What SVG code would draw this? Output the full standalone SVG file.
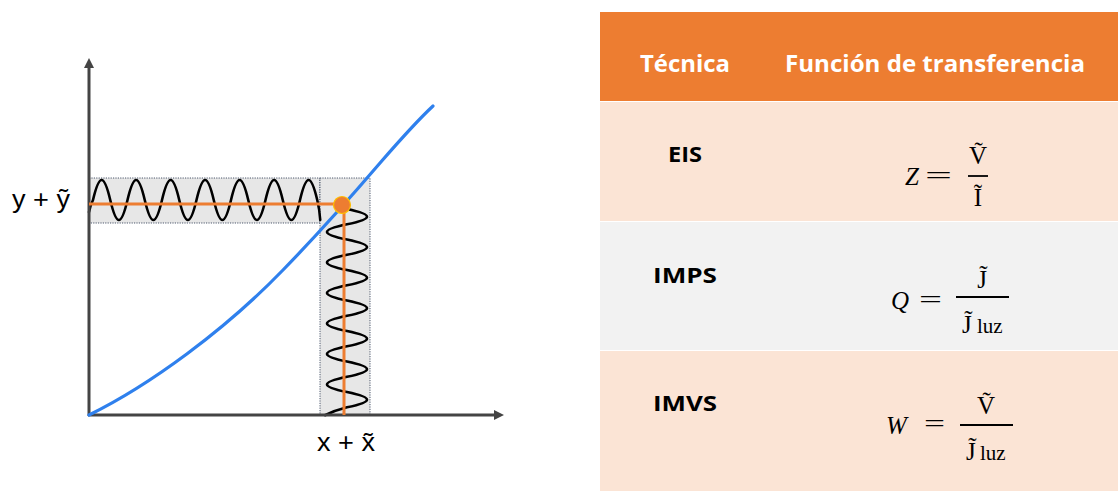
<svg xmlns="http://www.w3.org/2000/svg" width="1118" height="491" viewBox="0 0 1118 491">
<defs>
<style>
.box{fill:#E7E7E7;stroke:#22304a;stroke-width:0.8;stroke-dasharray:1.2,1.2}
.wave{fill:none;stroke:#000;stroke-width:2.6;stroke-linecap:round}
.axis{stroke:#444;stroke-width:3;fill:none}
.org{stroke:#ED7D31;stroke-width:3;fill:none}
.lbl{font-family:"Liberation Sans",Arial,sans-serif;font-size:26px;fill:#000}
.hdr{font-family:"Open Sans","Noto Sans",sans-serif;font-weight:700;font-size:24px;fill:#fff}
.tech{font-family:"Open Sans","Noto Sans",sans-serif;font-weight:700;font-size:22px;fill:#000}
.m{font-family:"Liberation Serif","DejaVu Serif",serif;font-size:25px;fill:#000}
.mi{font-family:"Liberation Serif","DejaVu Serif",serif;font-style:italic;font-size:25px;fill:#000}
.sub{font-family:"Liberation Serif","DejaVu Serif",serif;font-size:21px;fill:#000}
.bar{stroke:#000;stroke-width:1.8}
</style>
<marker id="ah" markerWidth="10" markerHeight="10" refX="6" refY="5" orient="auto" markerUnits="userSpaceOnUse">
<path d="M0,0 L10,5 L0,10 Z" fill="#444"/>
</marker>
</defs>

<g id="chart">
<rect class="box" x="89" y="178" width="231" height="45"/>
<rect class="box" x="320" y="178" width="50" height="237"/>
<path class="wave" d="M89,212 C90,207 91.5,203 93,200 c6.28,-26.67 10.97,-26.67 17.25,0 c6.28,26.67 10.97,26.67 17.25,0 c6.28,-26.67 10.97,-26.67 17.25,0 c6.28,26.67 10.97,26.67 17.25,0 c6.28,-26.67 10.97,-26.67 17.25,0 c6.28,26.67 10.97,26.67 17.25,0 c6.28,-26.67 10.97,-26.67 17.25,0 c6.28,26.67 10.97,26.67 17.25,0 c6.28,-26.67 10.97,-26.67 17.25,0 c6.28,26.67 10.97,26.67 17.25,0 c6.28,-26.67 10.97,-26.67 17.25,0 c6.28,26.67 10.97,26.67 17.25,0 c6.28,-26.67 10.97,-26.67 17.25,0 c1.5,6 2.5,13 3,20"/>
<path class="wave" d="M347,209 c26.67,5.55 26.67,9.7 0,15.25 c-26.67,5.55 -26.67,9.7 0,15.25 c26.67,5.55 26.67,9.7 0,15.25 c-26.67,5.55 -26.67,9.7 0,15.25 c26.67,5.55 26.67,9.7 0,15.25 c-26.67,5.55 -26.67,9.7 0,15.25 c26.67,5.55 26.67,9.7 0,15.25 c-26.67,5.55 -26.67,9.7 0,15.25 c26.67,5.55 26.67,9.7 0,15.25 c-26.67,5.55 -26.67,9.7 0,15.25 c26.67,5.55 26.67,9.7 0,15.25 c-26.67,5.55 -26.67,9.7 0,15.25 c26.67,5.55 26.67,9.7 0,15.25 c-8,2 -16,5 -22,8"/>
<line class="axis" x1="89" y1="416" x2="89" y2="62" marker-end="url(#ah)"/>
<line class="axis" x1="88" y1="415" x2="500" y2="415" marker-end="url(#ah)"/>
<path d="M89,415 C150,385 225,330 283,270 C320,232 350,198 380,163 C400,140 418,120 433,106" fill="none" stroke="#2F80ED" stroke-width="3.2" stroke-linecap="round"/>
<line class="org" x1="89" y1="204" x2="342" y2="204"/>
<line class="org" x1="344" y1="205" x2="344" y2="415"/>
<circle cx="342" cy="205" r="8.5" fill="#ED7D31" stroke="#FFC000" stroke-width="1.2"/>
<text class="lbl" x="12" y="208" textLength="58" lengthAdjust="spacingAndGlyphs">y + ỹ</text>
<text class="lbl" x="317" y="451" textLength="58" lengthAdjust="spacingAndGlyphs">x + x̃</text>
</g>

<g id="table-header">
<rect x="600" y="12" width="518" height="89" fill="#ED7D31"/>
<text class="hdr" x="640" y="72" textLength="90" lengthAdjust="spacingAndGlyphs">Técnica</text>
<text class="hdr" x="785" y="72" textLength="300" lengthAdjust="spacingAndGlyphs">Función de transferencia</text>
</g>

<g id="row-eis">
<rect x="600" y="102" width="518" height="119" fill="#FBE4D5"/>
<text class="tech" x="668" y="162" textLength="34" lengthAdjust="spacingAndGlyphs">EIS</text>
<text class="mi" x="905" y="185">Z</text>
<text class="m" x="925" y="184" textLength="27" lengthAdjust="spacingAndGlyphs">=</text>
<line class="bar" x1="968" y1="176" x2="988" y2="176"/>
<text class="m" x="978" y="164" text-anchor="middle">V&#x303;</text>
<text class="m" x="978" y="206" text-anchor="middle">Ĩ</text>
</g>

<g id="row-imps">
<rect x="600" y="222" width="518" height="128" fill="#F2F2F2"/>
<text class="tech" x="653" y="283" textLength="64" lengthAdjust="spacingAndGlyphs">IMPS</text>
<text class="mi" x="891" y="309">Q</text>
<text class="m" x="919" y="308" textLength="23" lengthAdjust="spacingAndGlyphs">=</text>
<line class="bar" x1="956" y1="297" x2="1009" y2="297"/>
<text class="m" x="982" y="288" text-anchor="middle" fill="#3b4252">J&#x303;</text>
<text class="m" x="962" y="333">J&#x303;</text>
<text class="sub" x="977" y="333">luz</text>
</g>

<g id="row-imvs">
<rect x="600" y="351" width="518" height="140" fill="#FBE4D5"/>
<text class="tech" x="653" y="411" textLength="64" lengthAdjust="spacingAndGlyphs">IMVS</text>
<text class="mi" x="886" y="434">W</text>
<text class="m" x="924" y="432" textLength="21" lengthAdjust="spacingAndGlyphs">=</text>
<line class="bar" x1="960" y1="425" x2="1013" y2="425"/>
<text class="m" x="986" y="414" text-anchor="middle">V&#x303;</text>
<text class="m" x="966" y="460">J&#x303;</text>
<text class="sub" x="980" y="460">luz</text>
</g>
</svg>
